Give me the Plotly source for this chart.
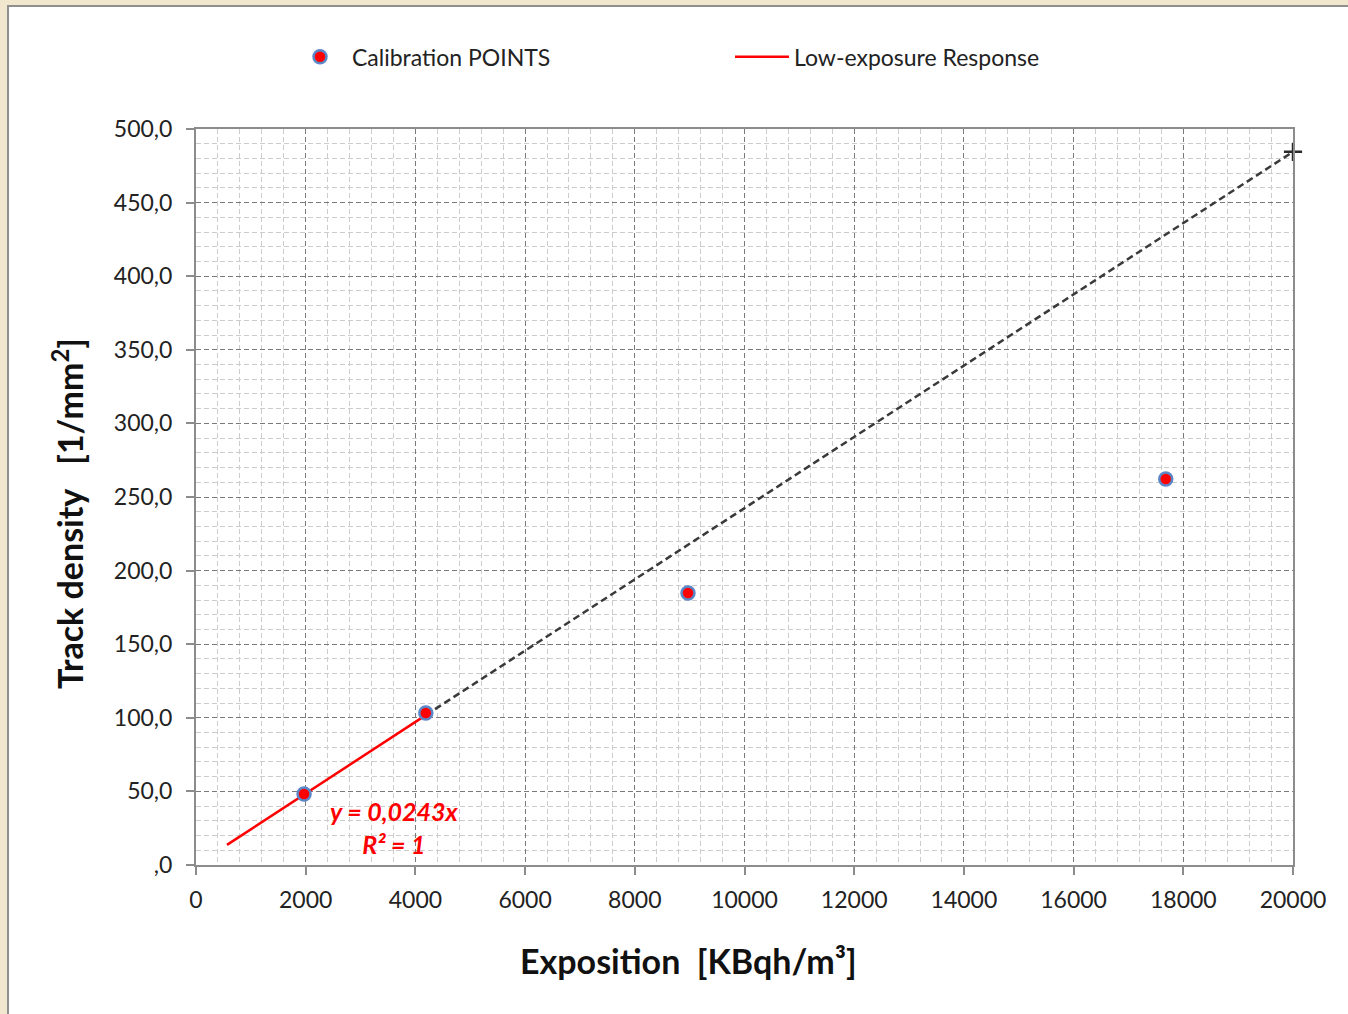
import plotly.graph_objects as go

# ---- data ----
calib_x = [1970, 4190, 8970, 17680]
calib_y = [48.2, 103.3, 184.8, 262.2]

trend_x = [565, 4190]
trend_y = [13.7, 101.8]

ext_x = [4190, 20000]
ext_y = [101.8, 484.5]

x_tickvals = [0, 2000, 4000, 6000, 8000, 10000, 12000, 14000, 16000, 18000, 20000]
x_ticktext = ["0", "2000", "4000", "6000", "8000", "10000", "12000", "14000", "16000", "18000", "20000"]
y_tickvals = [0, 50, 100, 150, 200, 250, 300, 350, 400, 450, 500]
y_ticktext = [",0", "50,0", "100,0", "150,0", "200,0", "250,0", "300,0", "350,0", "400,0", "450,0", "500,0"]

FONT = "Lato, 'Open Sans', sans-serif"
TICK_SIZE = 23

fig = go.Figure()

fig.add_trace(go.Scatter(
    x=ext_x, y=ext_y, mode="lines", showlegend=False, cliponaxis=False,
    line=dict(color="#3a3a3a", width=2.5, dash="7px,4px"),
    hoverinfo="skip"))

# end-of-forecast cross marker
fig.add_trace(go.Scatter(
    x=ext_x[-1:], y=ext_y[-1:], mode="markers", showlegend=False, cliponaxis=False,
    marker=dict(symbol="cross-thin", size=13, color="#2a2a2a",
                line=dict(color="#2a2a2a", width=2.5)),
    hoverinfo="skip"))

fig.add_trace(go.Scatter(
    x=trend_x, y=trend_y, mode="lines", name="Low-exposure Response",
    line=dict(color="#ff0000", width=2.5)))

fig.add_trace(go.Scatter(
    x=calib_x, y=calib_y, mode="markers", name="Calibration POINTS",
    marker=dict(symbol="circle", size=13, color="#ff0000",
                line=dict(color="#5b86c8", width=2.5))))

fig.update_layout(
    width=1348, height=1014, autosize=False,
    margin=dict(l=196, r=55, t=129, b=149, pad=0),
    paper_bgcolor="#F1E7CF", plot_bgcolor="white",
    font=dict(family=FONT, size=TICK_SIZE, color="#222222"),
    legend=dict(orientation="h", x=(288 - 196) / 1097, xanchor="left", y=1.098, yanchor="middle",
                traceorder="reversed", entrywidth=373, entrywidthmode="pixels", itemwidth=54,
                font=dict(size=23, color="#222222"), bgcolor="rgba(0,0,0,0)"),
    showlegend=True,
)

fig.update_xaxes(
    range=[0, 20000], tickvals=x_tickvals, ticktext=x_ticktext,
    showline=True, linecolor="#8c8c8c", linewidth=2, mirror=True,
    ticks="outside", ticklen=8, tickcolor="#8c8c8c", tickwidth=1.5,
    showgrid=True, gridcolor="#7a7a7a", gridwidth=1, griddash="5px,3px",
    minor=dict(dtick=400, tick0=0, showgrid=True, gridcolor="#cccccc", gridwidth=1,
               griddash="5px,3px", ticks=""),
    zeroline=False, tickfont=dict(size=TICK_SIZE, family=FONT, color="#222222"),
    ticklabelstandoff=5,
)
fig.update_yaxes(
    range=[0, 500], tickvals=y_tickvals, ticktext=y_ticktext,
    showline=True, linecolor="#8c8c8c", linewidth=2, mirror=True,
    ticks="outside", ticklen=8, tickcolor="#8c8c8c", tickwidth=1.5,
    showgrid=True, gridcolor="#7a7a7a", gridwidth=1, griddash="5px,3px",
    minor=dict(dtick=10, tick0=0, showgrid=True, gridcolor="#cccccc", gridwidth=1,
               griddash="5px,3px", ticks=""),
    zeroline=False, tickfont=dict(size=TICK_SIZE, family=FONT, color="#222222"),
    ticklabelstandoff=9,
)

# white chart area with gray border over the beige frame
fig.add_shape(type="rect", xref="paper", yref="paper", layer="below",
              x0=(8 - 196) / 1097, x1=(1360 - 196) / 1097,
              y0=(865 - 1030) / 736, y1=(865 - 6) / 736,
              fillcolor="white", line=dict(color="#8f8f8f", width=2))

# axis titles
fig.add_annotation(xref="paper", yref="paper", x=(688 - 196) / 1097, y=(865 - 961) / 736,
                   text="<b>Exposition  [KBqh/m³]</b>", showarrow=False,
                   font=dict(size=34, family=FONT, color="#111111"),
                   xanchor="center", yanchor="middle")
fig.add_annotation(xref="paper", yref="paper", x=(68 - 196) / 1097, y=(865 - 514) / 736,
                   text="<b>Track density   [1/mm<sup>2</sup>]</b>", showarrow=False, textangle=-90,
                   font=dict(size=34, family=FONT, color="#111111"),
                   xanchor="center", yanchor="middle")

# trend equation label
fig.add_annotation(xref="paper", yref="paper", x=(394 - 196) / 1097, y=(865 - 827) / 736,
                   text="<b><i>y = 0,0243x<br>R² = 1</i></b>", showarrow=False,
                   font=dict(size=25, family=FONT, color="#ff0000"), align="center",
                   xanchor="center", yanchor="middle")

fig.write_html("out.html", config={"displayModeBar": False},
               post_script="document.body.style.margin='0';")
